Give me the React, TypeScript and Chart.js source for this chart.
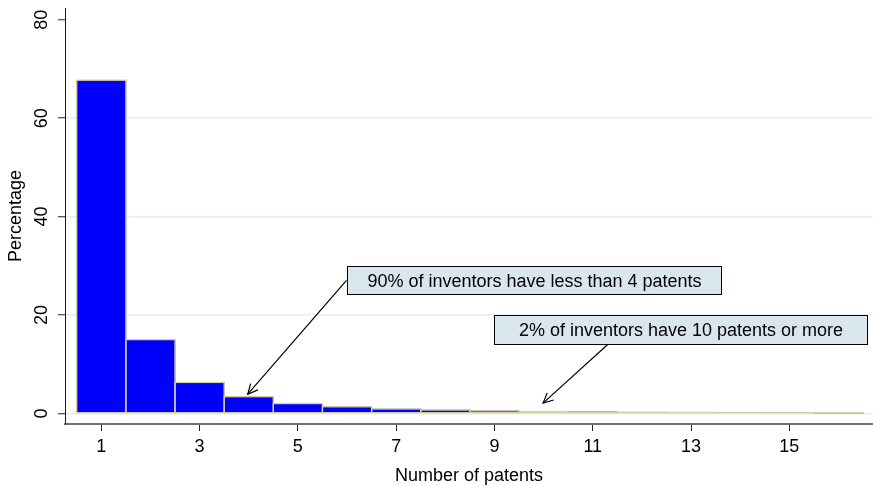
import React, { useEffect, useRef } from 'react';
import { Chart, registerables } from 'chart.js';

Chart.register(...registerables);

// ---- data ----
const patentCounts = [1, 2, 3, 4, 5, 6, 7, 8, 9, 10, 11, 12, 13, 14, 15, 16];
const percentages = [67.7, 15.0, 6.3, 3.4, 2.0, 1.35, 0.9, 0.68, 0.52, 0.38, 0.3, 0.24, 0.2, 0.16, 0.13, 0.11];
const xTickValues = [1, 3, 5, 7, 9, 11, 13, 15];
const yTickValues = [0, 20, 40, 60, 80];
const xAxisTitle = 'Number of patents';
const yAxisTitle = 'Percentage';
const annotationTexts = [
  '90% of inventors have less than 4 patents',
  '2% of inventors have 10 patents or more',
];

// annotation geometry in data units (box corners, arrow start/end)
const annotationBoxes = [
  { x1: 5.99, x2: 13.6, yTop: 29.9, yBottom: 24.2 },
  { x1: 9.0, x2: 16.58, yTop: 19.9, yBottom: 14.05 },
];
const annotationArrows = [
  { fromX: 5.99, fromY: 27.05, toX: 3.98, toY: 3.9 },
  { fromX: 11.31, fromY: 14.05, toX: 9.99, toY: 2.1 },
];

const FONT = "'Liberation Sans', Arial, sans-serif";
const BAR_FILL = '#0000ff';
const BAR_OUTLINE = '#d6d09c';

const overlayPlugin = {
  id: 'overlay',
  afterDatasetsDraw(chart: any) {
    const { ctx } = chart;
    const xs = chart.scales.x;
    const ys = chart.scales.y;
    const meta = chart.getDatasetMeta(0);
    ctx.save();
    // bar outlines (centered on the edges, like Stata)
    ctx.strokeStyle = BAR_OUTLINE;
    ctx.lineWidth = 1.3;
    meta.data.forEach((bar: any) => {
      const p = bar.getProps(['x', 'y', 'base', 'width'], true);
      ctx.strokeRect(p.x - p.width / 2, p.y, p.width, p.base - p.y);
    });

    // arrows
    ctx.strokeStyle = '#000';
    ctx.lineWidth = 1.2;
    annotationArrows.forEach((a) => {
      const x0 = xs.getPixelForValue(a.fromX);
      const y0 = ys.getPixelForValue(a.fromY);
      const x1 = xs.getPixelForValue(a.toX);
      const y1 = ys.getPixelForValue(a.toY);
      ctx.beginPath();
      ctx.moveTo(x0, y0);
      ctx.lineTo(x1, y1);
      ctx.stroke();
      const ang = Math.atan2(y1 - y0, x1 - x0);
      const len = 11;
      const spread = 0.45;
      ctx.beginPath();
      ctx.moveTo(x1 - len * Math.cos(ang - spread), y1 - len * Math.sin(ang - spread));
      ctx.lineTo(x1, y1);
      ctx.lineTo(x1 - len * Math.cos(ang + spread), y1 - len * Math.sin(ang + spread));
      ctx.stroke();
    });

    // boxes with text
    annotationBoxes.forEach((b, i) => {
      const left = Math.round(xs.getPixelForValue(b.x1)) + 0.5;
      const right = Math.round(xs.getPixelForValue(b.x2)) + 0.5;
      const top = Math.round(ys.getPixelForValue(b.yTop)) + 0.5;
      const bottom = Math.round(ys.getPixelForValue(b.yBottom)) + 0.5;
      ctx.fillStyle = '#dae6ee';
      ctx.fillRect(left, top, right - left, bottom - top);
      ctx.strokeStyle = '#000';
      ctx.lineWidth = 1;
      ctx.strokeRect(left, top, right - left, bottom - top);
      ctx.fillStyle = '#000';
      ctx.font = `18px ${FONT}`;
      ctx.textAlign = 'center';
      ctx.textBaseline = 'middle';
      ctx.fillText(annotationTexts[i], (left + right) / 2, (top + bottom) / 2 + 1.5);
    });
    ctx.restore();
  },
};

export default function App() {
  const canvasRef = useRef<HTMLCanvasElement | null>(null);

  useEffect(() => {
    if (!canvasRef.current) return;
    const chart = new Chart(canvasRef.current, {
      type: 'bar',
      data: {
        datasets: [
          {
            data: patentCounts.map((c, i) => ({ x: c, y: percentages[i] })),
            backgroundColor: BAR_FILL,
            borderWidth: 0,
            barPercentage: 1,
            categoryPercentage: 1,
          },
        ],
      },
      options: {
        animation: false,
        responsive: false,
        devicePixelRatio: 1,
        layout: { padding: { top: 8, right: 0, bottom: 0, left: 0 } },
        plugins: {
          legend: { display: false },
          tooltip: { enabled: false },
        },
        scales: {
          x: {
            type: 'linear',
            offset: false,
            min: 0.2613,
            max: 16.703,
            afterBuildTicks: (s: any) => {
              s.ticks = xTickValues.map((v) => ({ value: v }));
            },
            afterFit: (s: any) => {
              s.height = 61;
              s.paddingLeft = 0;
              s.paddingRight = 0;
            },
            ticks: {
              autoSkip: false,
              maxRotation: 0,
              minRotation: 0,
              padding: 5,
              color: '#000',
              font: { family: FONT, size: 18 },
              callback: (v: any) => String(v),
            },
            grid: {
              offset: false,
              drawOnChartArea: false,
              drawTicks: true,
              tickLength: 7,
              tickColor: '#222',
              tickWidth: 1,
            },
            border: { display: true, color: '#707070', width: 2 },
            title: {
              display: true,
              text: xAxisTitle,
              color: '#000',
              font: { family: FONT, size: 18, lineHeight: 1 },
              padding: { top: 0, bottom: 0 },
            },
          },
          y: {
            type: 'linear',
            min: -2.15,
            max: 82.38,
            afterBuildTicks: (s: any) => {
              s.ticks = yTickValues.map((v) => ({ value: v }));
            },
            afterFit: (s: any) => {
              s.width = 65;
              s.paddingTop = 0;
              s.paddingBottom = 0;
            },
            ticks: {
              minRotation: 90,
              maxRotation: 90,
              crossAlign: 'center',
              padding: 6,
              color: '#000',
              font: { family: FONT, size: 18 },
              callback: (v: any) => String(v),
            },
            grid: {
              color: (c: any) => (c.tick && c.tick.value === 80 ? 'rgba(0,0,0,0)' : '#e6eef1'),
              lineWidth: 1.5,
              drawTicks: true,
              tickLength: 7,
              tickColor: '#222',
              tickWidth: 1,
            },
            border: { display: true, color: '#1a1a1a', width: 1 },
            title: {
              display: true,
              text: yAxisTitle,
              color: '#000',
              font: { family: FONT, size: 18 },
              padding: { top: 5, bottom: 0 },
            },
          },
        },
      },
      plugins: [overlayPlugin],
    } as any);
    return () => chart.destroy();
  }, []);

  return (
    <div style={{ position: 'fixed', left: 0, top: 0, width: 873, height: 485, background: '#fff' }}>
      <canvas ref={canvasRef} width={873} height={485} style={{ display: 'block', width: 873, height: 485 }} />
    </div>
  );
}
